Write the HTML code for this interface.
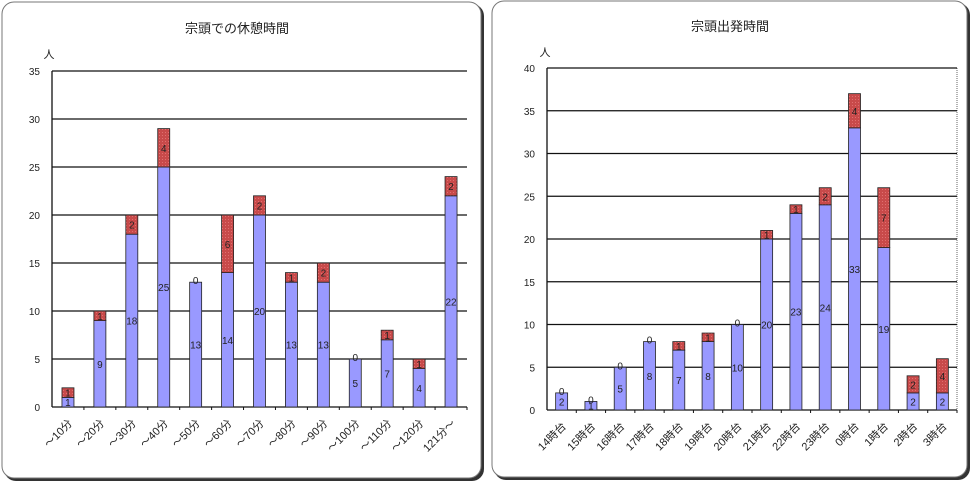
<!DOCTYPE html>
<html><head><meta charset="utf-8"><style>
html,body{margin:0;padding:0;background:#fff;width:970px;height:486px;overflow:hidden}
svg text{font-family:"Liberation Sans","Noto Sans CJK JP",sans-serif;fill:#222}
</style></head><body>
<svg id="s" width="970" height="486" xmlns="http://www.w3.org/2000/svg">
<defs>
<pattern id="dots" width="3" height="3" patternUnits="userSpaceOnUse">
<rect width="3" height="3" fill="#c84a4a"/><rect width="1" height="1" fill="#e07070"/>
</pattern>
</defs>
<rect x="4" y="4" width="480" height="477" rx="12" fill="#333"/>
<rect x="2" y="2" width="479" height="476" rx="12" fill="#fff" stroke="#777" stroke-width="1"/>
<rect x="494" y="3" width="476" height="477" rx="12" fill="#333"/>
<rect x="492" y="1" width="475" height="476" rx="12" fill="#fff" stroke="#777" stroke-width="1"/>
<text x="237" y="33" font-size="13" text-anchor="middle">宗頭での休憩時間</text>
<text x="730" y="31" font-size="13" text-anchor="middle">宗頭出発時間</text>
<text x="49" y="58" font-size="11" text-anchor="middle">人</text>
<text x="545" y="56" font-size="11" text-anchor="middle">人</text>
<line x1="957" y1="68" x2="957" y2="410" stroke="#666" stroke-dasharray="1,1"/>
<g id="g"></g>
</svg>
<script>
var g=document.getElementById('g'),h='';
function chart(L,R,T,B,max,step,cats,data,bw){
  var n=cats.length,cw=(R-L)/n,sc=(B-T)/max;
  for(var v=0;v<=max;v+=step){var y=B-v*sc;
    if(v>0)h+='<line x1="'+L+'" y1="'+y+'" x2="'+R+'" y2="'+y+'" stroke="#111" stroke-width="1.3"/>';
    h+='<text x="'+(L-12)+'" y="'+(y+4)+'" font-size="10" text-anchor="end">'+v+'</text>';}
  h+='<line x1="'+L+'" y1="'+T+'" x2="'+L+'" y2="'+B+'" stroke="#111" stroke-width="1.3"/>';
  h+='<line x1="'+L+'" y1="'+B+'" x2="'+R+'" y2="'+B+'" stroke="#111" stroke-width="1.3"/>';
  for(var i=0;i<n;i++){var cx=L+cw*(i+.5),a=data[i][0],b=data[i][1],x=cx-bw/2;
    var ya=B-a*sc,yb=ya-b*sc;
    h+='<line x1="'+(L+cw*(i+1))+'" y1="'+B+'" x2="'+(L+cw*(i+1))+'" y2="'+(B+3)+'" stroke="#111"/>';
    h+='<rect x="'+x+'" y="'+ya+'" width="'+bw+'" height="'+(a*sc)+'" fill="#9999ff" stroke="#222" stroke-width="0.8"/>';
    if(b>0)h+='<rect x="'+x+'" y="'+yb+'" width="'+bw+'" height="'+(b*sc)+'" fill="url(#dots)" stroke="#222" stroke-width="0.8"/>';
    h+='<text x="'+cx+'" y="'+((ya+B)/2+4)+'" font-size="10" text-anchor="middle">'+a+'</text>';
    h+='<text x="'+cx+'" y="'+(b>0?(ya+yb)/2+4:ya+2)+'" font-size="10" text-anchor="middle">'+b+'</text>';
    h+='<text transform="translate('+(cx+5)+','+(B+17)+') rotate(-45)" font-size="11" text-anchor="end">'+cats[i]+'</text>';
  }
}
chart(52,467,71,407,35,5,['～10分','～20分','～30分','～40分','～50分','～60分','～70分','～80分','～90分','～100分','～110分','～120分','121分～'],
[[1,1],[9,1],[18,2],[25,4],[13,0],[14,6],[20,2],[13,1],[13,2],[5,0],[7,1],[4,1],[22,2]],12);
chart(547,957,68,410,40,5,['14時台','15時台','16時台','17時台','18時台','19時台','20時台','21時台','22時台','23時台','0時台','1時台','2時台','3時台'],
[[2,0],[1,0],[5,0],[8,0],[7,1],[8,1],[10,0],[20,1],[23,1],[24,2],[33,4],[19,7],[2,2],[2,4]],12);
g.innerHTML=h;
</script>
</body></html>
